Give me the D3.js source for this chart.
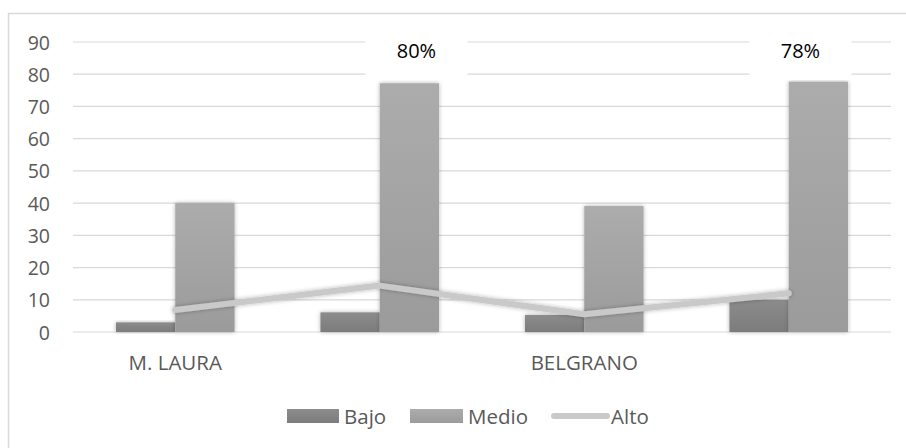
<!DOCTYPE html>
<html>
<head>
<meta charset="utf-8">
<script src="https://cdn.jsdelivr.net/npm/d3@7"></script>
<style>
  body { margin: 0; background: #fff; }
  text { font-family: "Open Sans", "Noto Sans", sans-serif; }
</style>
</head>
<body>
<div id="chart"></div>
<script>
// data
const categories = ["M. LAURA", "", "BELGRANO", " "];
const bajo  = [3, 6.1, 5.3, 10];
const medio = [40, 77.2, 39.1, 77.7];
const alto  = [6.8, 14.4, 5.5, 12];
const pctLabels = ["", "80%", "", "78%"];
const yTicks = [0, 10, 20, 30, 40, 50, 60, 70, 80, 90];

const width = 906, height = 448;
const margin = {top: 42, right: 15, bottom: 116, left: 73};

const svg = d3.select("#chart").append("svg")
    .attr("width", width)
    .attr("height", height);

const defs = svg.append("defs");
const gBajo = defs.append("linearGradient").attr("id", "gBajo")
    .attr("x1", 0).attr("y1", 0).attr("x2", 0).attr("y2", 1);
gBajo.append("stop").attr("offset", "0%").attr("stop-color", "#8c8c8c");
gBajo.append("stop").attr("offset", "100%").attr("stop-color", "#7c7c7c");
const gMedio = defs.append("linearGradient").attr("id", "gMedio")
    .attr("x1", 0).attr("y1", 0).attr("x2", 0).attr("y2", 1);
gMedio.append("stop").attr("offset", "0%").attr("stop-color", "#acacac");
gMedio.append("stop").attr("offset", "100%").attr("stop-color", "#9b9b9b");
const shadow = defs.append("filter").attr("id", "shadow")
    .attr("x", "-20%").attr("y", "-20%").attr("width", "140%").attr("height", "140%");
shadow.append("feDropShadow").attr("dx", 0).attr("dy", 0)
    .attr("stdDeviation", 2).attr("flood-color", "#000").attr("flood-opacity", 0.3);

// outer border (cut off right and bottom in the picture)
svg.append("rect")
    .attr("x", 8.5).attr("y", 13.5)
    .attr("width", 920).attr("height", 460)
    .attr("fill", "none").attr("stroke", "#d9d9d9").attr("stroke-width", 1.5);

const x = d3.scaleBand()
    .domain(categories)
    .range([margin.left, width - margin.right])
    .paddingInner(0.42).paddingOuter(0.21);

const y = d3.scaleLinear()
    .domain([0, 90])
    .range([height - margin.bottom, margin.top]);

const barW = x.bandwidth() / 2;

// gridlines
svg.append("g")
    .selectAll("line")
    .data(yTicks)
    .join("line")
    .attr("x1", margin.left).attr("x2", width - margin.right)
    .attr("y1", d => y(d)).attr("y2", d => y(d))
    .attr("stroke", "#d9d9d9").attr("stroke-width", 1.2);

// y tick labels
svg.append("g")
    .selectAll("text")
    .data(yTicks)
    .join("text")
    .attr("x", 50)
    .attr("y", d => y(d))
    .attr("text-anchor", "end")
    .attr("dominant-baseline", "central")
    .attr("font-size", 19.5)
    .attr("fill", "#595959")
    .text(d => d);

// bars
svg.append("g")
    .selectAll("rect")
    .data(categories)
    .join("rect")
    .attr("x", d => x(d))
    .attr("y", (d, i) => y(bajo[i]))
    .attr("width", barW)
    .attr("height", (d, i) => y(0) - y(bajo[i]))
    .attr("fill", "url(#gBajo)")
    .attr("filter", "url(#shadow)");

svg.append("g")
    .selectAll("rect")
    .data(categories)
    .join("rect")
    .attr("x", d => x(d) + barW)
    .attr("y", (d, i) => y(medio[i]))
    .attr("width", barW)
    .attr("height", (d, i) => y(0) - y(medio[i]))
    .attr("fill", "url(#gMedio)")
    .attr("filter", "url(#shadow)");

// category labels
svg.append("g")
    .selectAll("text")
    .data(categories)
    .join("text")
    .attr("x", d => x(d) + x.bandwidth() / 2)
    .attr("y", 362)
    .attr("text-anchor", "middle")
    .attr("dominant-baseline", "central")
    .attr("font-size", 20.5)
    .attr("fill", "#595959")
    .text(d => d.trim());

// Alto line
const line = d3.line()
    .x((d, i) => x(categories[i]) + barW)
    .y(d => y(d));

svg.append("path")
    .datum(alto)
    .attr("d", line)
    .attr("fill", "none")
    .attr("stroke", "#c9c9c9")
    .attr("stroke-width", 6)
    .attr("stroke-linecap", "round")
    .attr("stroke-linejoin", "round")
    .attr("filter", "url(#shadow)");

// percentage labels with white box
const labelDx = [0, 7, 0, -18];
const lab = svg.append("g")
    .selectAll("g")
    .data(categories.map((c, i) => ({c, i, t: pctLabels[i]})).filter(d => d.t))
    .join("g")
    .attr("transform", d => `translate(${x(d.c) + barW * 1.5 + labelDx[d.i]},50)`);
lab.append("rect")
    .attr("x", -51).attr("y", -24)
    .attr("width", 102).attr("height", 54)
    .attr("fill", "#fff");
lab.append("text")
    .attr("text-anchor", "middle")
    .attr("dominant-baseline", "central")
    .attr("font-size", 20)
    .attr("fill", "#000")
    .text(d => d.t);

// legend
const legend = svg.append("g").attr("font-size", 20.5).attr("fill", "#595959");
legend.append("rect").attr("x", 287).attr("y", 409).attr("width", 52).attr("height", 14)
    .attr("fill", "url(#gBajo)");
legend.append("text").attr("x", 344).attr("y", 416).attr("dominant-baseline", "central").text("Bajo");
legend.append("rect").attr("x", 410).attr("y", 409).attr("width", 53).attr("height", 14)
    .attr("fill", "url(#gMedio)");
legend.append("text").attr("x", 468).attr("y", 416).attr("dominant-baseline", "central").text("Medio");
legend.append("line").attr("x1", 554).attr("x2", 607).attr("y1", 416).attr("y2", 416)
    .attr("stroke", "#c9c9c9").attr("stroke-width", 6).attr("stroke-linecap", "round");
legend.append("text").attr("x", 611).attr("y", 416).attr("dominant-baseline", "central").text("Alto");
</script>
</body>
</html>
